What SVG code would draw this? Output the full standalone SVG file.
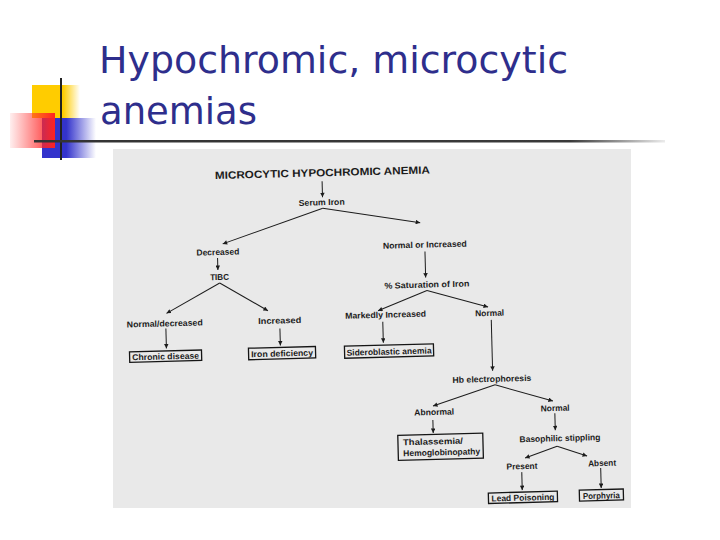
<svg xmlns="http://www.w3.org/2000/svg" width="720" height="540" viewBox="0 0 720 540">
<defs>
<style>
.title{font-family:"DejaVu Sans","Verdana",sans-serif;font-size:38px;fill:#2e2e8c}
.t{font-family:"Liberation Sans",Arial,sans-serif;font-weight:bold;font-size:8.5px;fill:#1c1c1c;text-anchor:middle}
.tl{font-family:"Liberation Sans",Arial,sans-serif;font-weight:bold;font-size:8.5px;fill:#1c1c1c}
.hd{font-family:"Liberation Sans",Arial,sans-serif;font-weight:bold;font-size:10.5px;fill:#1c1c1c;text-anchor:middle}
.box{fill:none;stroke:#151515;stroke-width:1.3}
.c{stroke:#1c1c1c;stroke-width:1;fill:none;marker-end:url(#ah)}
</style>
<marker id="ah" viewBox="0 0 10 10" refX="10" refY="5" markerWidth="5" markerHeight="4.5" markerUnits="userSpaceOnUse" orient="auto">
<path d="M0,0 L10,5 L0,10 z" fill="#1c1c1c"/>
</marker>
<linearGradient id="gy" x1="0" y1="0" x2="1" y2="0">
<stop offset="0" stop-color="#ffcc00"/><stop offset="0.65" stop-color="#ffcc00"/><stop offset="1" stop-color="#ffcc00" stop-opacity="0"/>
</linearGradient>
<linearGradient id="gb" x1="0" y1="0" x2="1" y2="0">
<stop offset="0" stop-color="#3333cc"/><stop offset="0.45" stop-color="#3333cc"/><stop offset="1" stop-color="#3333cc" stop-opacity="0"/>
</linearGradient>
<linearGradient id="gr" x1="0" y1="0" x2="1" y2="0">
<stop offset="0" stop-color="#ff3333" stop-opacity="0.08"/><stop offset="1" stop-color="#ff2222"/>
</linearGradient>
<linearGradient id="gl" gradientUnits="userSpaceOnUse" x1="34" y1="0" x2="665" y2="0">
<stop offset="0" stop-color="#333"/><stop offset="0.85" stop-color="#3a3a3a"/><stop offset="1" stop-color="#3a3a3a" stop-opacity="0.1"/>
</linearGradient>
</defs>
<rect width="720" height="540" fill="#ffffff"/>

<g id="logo">
<rect x="32" y="85" width="48" height="33" fill="url(#gy)"/>
<rect x="42" y="118" width="54" height="40" fill="url(#gb)"/>
<rect x="10" y="113" width="45" height="35" fill="url(#gr)"/>
<line x1="61" y1="78" x2="61" y2="160" stroke="#222" stroke-width="2"/>
<rect x="34" y="140" width="631" height="2.5" fill="url(#gl)"/>
</g>

<g id="slide-title">
<text class="title" x="99" y="72.5" textLength="469" lengthAdjust="spacingAndGlyphs">Hypochromic, microcytic</text>
<text class="title" x="100" y="124" textLength="157" lengthAdjust="spacingAndGlyphs">anemias</text>
</g>

<rect id="scan" x="113" y="149" width="518" height="359" fill="#e9e9e9"/>

<g transform="rotate(-1.5 372 330)">
<g id="connectors">
<line class="c" x1="326" y1="180" x2="326" y2="196"/>
<line class="c" x1="326" y1="207" x2="225" y2="240"/>
<line class="c" x1="326" y1="207" x2="423" y2="224"/>
<line class="c" x1="219.5" y1="254" x2="219.5" y2="266"/>
<line class="c" x1="221" y1="279" x2="167" y2="308"/>
<line class="c" x1="221" y1="279" x2="268.5" y2="308"/>
<line class="c" x1="166" y1="323" x2="166" y2="343"/>
<line class="c" x1="280" y1="326" x2="280" y2="343"/>
<line class="c" x1="427" y1="253" x2="427" y2="279"/>
<line class="c" x1="428" y1="292" x2="378.5" y2="311"/>
<line class="c" x1="428" y1="292" x2="488.6" y2="310"/>
<line class="c" x1="383" y1="322" x2="383" y2="343"/>
<line class="c" x1="491.5" y1="323" x2="491.5" y2="374"/>
<line class="c" x1="493.6" y1="388" x2="431" y2="407.6"/>
<line class="c" x1="493.6" y1="388" x2="551" y2="405.7"/>
<line class="c" x1="430.5" y1="421.6" x2="430.5" y2="434.6"/>
<line class="c" x1="552.6" y1="418" x2="552.6" y2="435"/>
<line class="c" x1="554" y1="451" x2="521.7" y2="462"/>
<line class="c" x1="554" y1="451" x2="583.7" y2="461.6"/>
<line class="c" x1="518" y1="476" x2="518" y2="494"/>
<line class="c" x1="597" y1="474" x2="597" y2="494"/>
</g>

<g id="n-title"><text class="hd" x="326.5" y="175" textLength="215" lengthAdjust="spacingAndGlyphs">MICROCYTIC HYPOCHROMIC ANEMIA</text></g>
<g id="n-serum"><text class="t" x="325" y="204" textLength="46" lengthAdjust="spacingAndGlyphs">Serum Iron</text></g>
<g id="n-decreased"><text class="t" x="220" y="251" textLength="43" lengthAdjust="spacingAndGlyphs">Decreased</text></g>
<g id="n-tibc"><text class="t" x="221" y="276" textLength="19" lengthAdjust="spacingAndGlyphs">TIBC</text></g>
<g id="n-norminc"><text class="t" x="427" y="249" textLength="84" lengthAdjust="spacingAndGlyphs">Normal or Increased</text></g>
<g id="n-sat"><text class="t" x="428" y="289" textLength="85" lengthAdjust="spacingAndGlyphs">% Saturation of Iron</text></g>
<g id="n-marked"><text class="t" x="386" y="318" textLength="81" lengthAdjust="spacingAndGlyphs">Markedly Increased</text></g>
<g id="n-normal1"><text class="t" x="490" y="319" textLength="29" lengthAdjust="spacingAndGlyphs">Normal</text></g>
<g id="n-normdec"><text class="t" x="165" y="321" textLength="76" lengthAdjust="spacingAndGlyphs">Normal/decreased</text></g>
<g id="n-increased"><text class="t" x="280" y="321" textLength="43" lengthAdjust="spacingAndGlyphs">Increased</text></g>
<g id="n-chronic"><rect class="box" x="129" y="345.5" width="72" height="10.5"/><text class="t" x="165" y="354" textLength="67" lengthAdjust="spacingAndGlyphs">Chronic disease</text></g>
<g id="n-irondef"><rect class="box" x="248" y="345" width="67" height="11.5"/><text class="t" x="281.5" y="354" textLength="62" lengthAdjust="spacingAndGlyphs">Iron deficiency</text></g>
<g id="n-sidero"><rect class="box" x="344" y="345.5" width="89" height="12"/><text class="t" x="388.5" y="355" textLength="85" lengthAdjust="spacingAndGlyphs">Sideroblastic anemia</text></g>
<g id="n-hb"><text class="t" x="490.6" y="385" textLength="79" lengthAdjust="spacingAndGlyphs">Hb electrophoresis</text></g>
<g id="n-abnormal"><text class="t" x="432" y="416.6" textLength="40" lengthAdjust="spacingAndGlyphs">Abnormal</text></g>
<g id="n-normal2"><text class="t" x="553" y="415.8" textLength="29" lengthAdjust="spacingAndGlyphs">Normal</text></g>
<g id="n-thal"><rect class="box" x="395" y="436" width="85" height="25"/><text class="tl" x="400" y="446" textLength="60" lengthAdjust="spacingAndGlyphs">Thalassemia/</text><text class="tl" x="400" y="457" textLength="77" lengthAdjust="spacingAndGlyphs">Hemoglobinopathy</text></g>
<g id="n-baso"><text class="t" x="557" y="446" textLength="81" lengthAdjust="spacingAndGlyphs">Basophilic stippling</text></g>
<g id="n-present"><text class="t" x="518.4" y="473" textLength="31" lengthAdjust="spacingAndGlyphs">Present</text></g>
<g id="n-absent"><text class="t" x="598.5" y="472" textLength="28" lengthAdjust="spacingAndGlyphs">Absent</text></g>
<g id="n-lead"><rect class="box" x="484" y="496" width="69" height="10.5"/><text class="t" x="518.5" y="504.5" textLength="63" lengthAdjust="spacingAndGlyphs">Lead Poisoning</text></g>
<g id="n-porph"><rect class="box" x="575" y="495.5" width="44" height="11"/><text class="t" x="597" y="504.5" textLength="37" lengthAdjust="spacingAndGlyphs">Porphyria</text></g>
</g>
</svg>
